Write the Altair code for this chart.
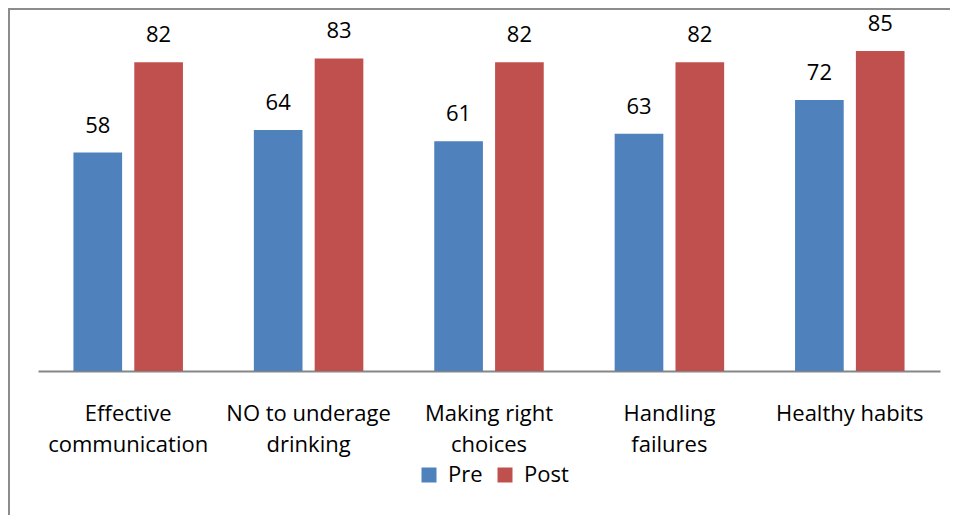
import altair as alt
import pandas as pd

categories = ["Effective\ncommunication", "NO to underage\ndrinking", "Making right\nchoices", "Handling\nfailures", "Healthy habits"]
series = ["Pre", "Post"]
pre_values = [58, 64, 61, 63, 72]
post_values = [82, 83, 82, 82, 85]

rows = []
for c, a, b in zip(categories, pre_values, post_values):
    rows.append({"cat": c, "series": "Pre", "value": a})
    rows.append({"cat": c, "series": "Post", "value": b})
df = pd.DataFrame(rows)

FONT = "Open Sans"
FS = 22
colors = ["#4F81BD", "#C0504D"]

x_enc = alt.X("cat:N", sort=categories,
              scale=alt.Scale(paddingInner=0.393, paddingOuter=0.1965),
              axis=alt.Axis(title=None, labelAngle=0, ticks=False, domainColor="#868686",
                            domainWidth=2, labelFontSize=FS, labelFont=FONT, labelColor="#000000",
                            labelLineHeight=31, labelPadding=32, labelBaseline="top",
                            labelExpr="split(datum.label, '\\n')"))
xo = alt.XOffset("series:N", sort=series, scale=alt.Scale(paddingInner=0.2, paddingOuter=0))
y_enc = alt.Y("value:Q", scale=alt.Scale(domain=[0, 89.5]), axis=None)

bars = alt.Chart(df).mark_bar().encode(
    x=x_enc, xOffset=xo, y=y_enc,
    color=alt.Color("series:N", sort=series, scale=alt.Scale(domain=series, range=colors),
                    legend=alt.Legend(title=None, orient="none", legendX=380, legendY=430,
                                      direction="horizontal", symbolType="square", symbolSize=225,
                                      symbolStrokeWidth=0, labelFontSize=FS, labelFont=FONT,
                                      labelColor="#000000", labelOffset=8, columnPadding=11)),
)

labels = alt.Chart(df).mark_text(fontSize=FS, font=FONT, color="#000000", dy=-20, baseline="alphabetic").encode(
    x=alt.X("cat:N", sort=categories), xOffset=xo, y=y_enc, text="value:Q"
)

frame_left = alt.Chart(pd.DataFrame({"a": [0]})).mark_rule(color="#8c8c8c", strokeWidth=2, clip=False).encode(
    x=alt.value(-29), y=alt.value(-25), y2=alt.value(600)
)
frame_top = alt.Chart(pd.DataFrame({"a": [0]})).mark_rule(color="#8c8c8c", strokeWidth=2, clip=False).encode(
    x=alt.value(-30), x2=alt.value(1000), y=alt.value(-25)
)

chart = alt.layer(bars, labels, frame_left, frame_top).properties(
    width=902, height=337,
    autosize=alt.AutoSizeParams(type="none"),
    padding={"left": 30, "top": 26, "right": 10, "bottom": 144},
).configure_view(stroke=None)

chart.save("out.html", embed_options={"renderer": "svg", "actions": False})
